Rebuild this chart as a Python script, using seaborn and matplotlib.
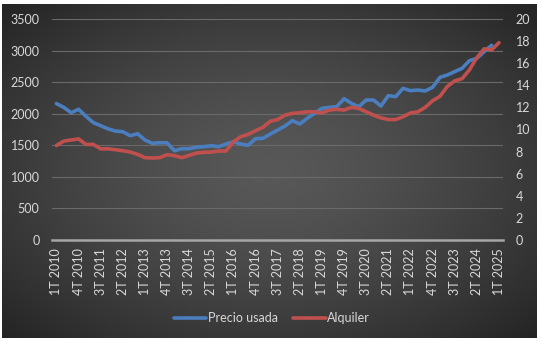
import numpy as np
import pandas as pd
import matplotlib
matplotlib.use("Agg")
import matplotlib.pyplot as plt
import seaborn as sns

# ---- data -------------------------------------------------------------
quarters = [f"{q}T {y}" for y in range(2010, 2025) for q in range(1, 5)] + ["1T 2025"]

precio_usada = [
    2160, 2100, 2015, 2070, 1960, 1860, 1810, 1760, 1725, 1715,
    1652, 1683, 1584, 1531, 1540, 1540, 1414, 1446, 1446, 1470,
    1478, 1493, 1478, 1520, 1557, 1520, 1500, 1605, 1610, 1678,
    1742, 1805, 1890, 1837, 1927, 2006, 2085, 2100, 2111, 2238,
    2164, 2111, 2217, 2217, 2122, 2286, 2270, 2402, 2365, 2375,
    2360, 2418, 2576, 2613, 2666, 2719, 2840, 2877, 2983, 3083,
    np.nan,
]

alquiler = [
    8.55, 8.95, 9.05, 9.15, 8.65, 8.65, 8.25, 8.25, 8.17, 8.08,
    7.96, 7.75, 7.45, 7.42, 7.45, 7.72, 7.63, 7.45, 7.66, 7.87,
    7.93, 7.96, 8.05, 8.05, 8.90, 9.35, 9.56, 9.89, 10.20, 10.75,
    10.90, 11.30, 11.46, 11.52, 11.60, 11.60, 11.50, 11.76, 11.82, 11.76,
    12.00, 11.90, 11.60, 11.30, 11.05, 10.90, 10.90, 11.15, 11.50, 11.60,
    12.00, 12.60, 13.00, 13.90, 14.40, 14.60, 15.40, 16.50, 17.30, 17.20,
    17.85,
]

left_ticks = [0, 500, 1000, 1500, 2000, 2500, 3000, 3500]
right_ticks = [0, 2, 4, 6, 8, 10, 12, 14, 16, 18, 20]

df = pd.DataFrame({
    "pos": range(len(quarters)),
    "Trimestre": quarters,
    "Precio usada": precio_usada,
    "Alquiler": alquiler,
})

# ---- style ------------------------------------------------------------
plt.rcParams["font.family"] = ["Lato", "DejaVu Sans"]
BLUE = "#4a7ebf"
RED = "#c0504d"
TXT = "#d9d9d9"
FS = 9

W, H = 542, 342
fig = plt.figure(figsize=(W / 100, H / 100), dpi=100, facecolor="white")

# radial gradient background (chart area)
bg = fig.add_axes([2 / W, 4 / H, 535 / W, 334 / H], zorder=-10)
gx, gy = np.meshgrid(np.linspace(-1, 1, 400), np.linspace(-1, 1, 300))
r = np.sqrt(gx ** 2 + gy ** 2) / np.sqrt(2)
g = (88 - 52 * r ** 1.4) / 255.0
bg.imshow(np.dstack([g, g, g]), aspect="auto", extent=[0, 1, 0, 1])
bg.set_axis_off()

ax = fig.add_axes([52 / W, 1 - 240 / H, 451 / W, 221 / H], zorder=1)
ax.set_facecolor("none")
ax2 = ax.twinx()
ax2.set_facecolor("none")

sns.lineplot(data=df, x="pos", y="Precio usada", ax=ax, color=BLUE,
             linewidth=2.6, label="Precio usada", legend=False)
sns.lineplot(data=df, x="pos", y="Alquiler", ax=ax2, color=RED,
             linewidth=2.6, label="Alquiler", legend=False)
for a in (ax, ax2):
    for ln in a.get_lines():
        ln.set_solid_joinstyle("round")
        ln.set_solid_capstyle("round")

ax.set_xlim(-0.6, len(quarters) - 0.45)
ax.set_ylim(0, 3500)
ax2.set_ylim(0, 20)
ax.set_yticks(left_ticks)
ax2.set_yticks(right_ticks)
ax.set_xticks(df["pos"][::3])
ax.set_xticklabels(df["Trimestre"][::3], rotation=90)

ax.set_xlabel("")
ax.set_ylabel("")
ax2.set_ylabel("")

ax.yaxis.grid(True, color="#6a6a6a", linewidth=0.8)
ax.xaxis.grid(False)
ax.set_axisbelow(True)

for a in (ax, ax2):
    for s in a.spines.values():
        s.set_visible(False)
ax.spines["bottom"].set_visible(True)
ax.spines["bottom"].set_color("#a6a6a6")
ax.spines["bottom"].set_linewidth(1.8)

ax.tick_params(axis="y", length=0, pad=9, labelcolor=TXT, labelsize=FS)
ax.tick_params(axis="x", length=0, pad=6, labelcolor=TXT, labelsize=FS)
ax2.tick_params(axis="y", length=0, pad=9, labelcolor=TXT, labelsize=FS)

h1, l1 = ax.get_legend_handles_labels()
h2, l2 = ax2.get_legend_handles_labels()
fig.legend(h1 + h2, l1 + l2, loc="center", bbox_to_anchor=(272 / W, 1 - 318 / H),
           ncol=2, frameon=False, fontsize=FS, labelcolor=TXT,
           handlelength=2.6, handletextpad=0.15, columnspacing=1.2)

fig.savefig("out.png", dpi=100, facecolor="white")
